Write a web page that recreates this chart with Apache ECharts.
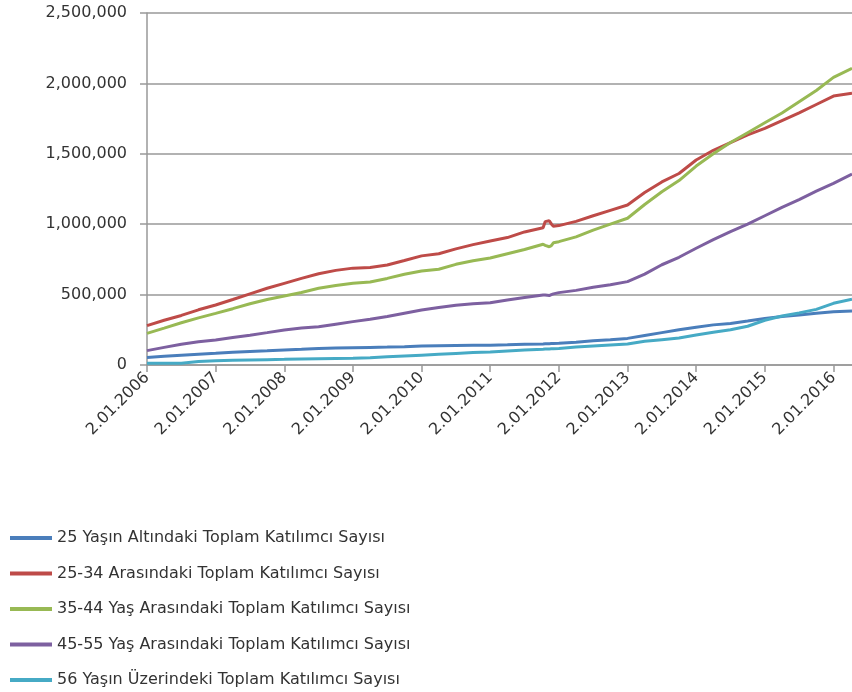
<!DOCTYPE html>
<html>
<head>
<meta charset="utf-8">
<script src="https://cdn.jsdelivr.net/npm/echarts@6/dist/echarts.min.js"></script>
<style>html,body{margin:0;padding:0;background:#fff}#c{width:852px;height:692px}</style>
</head>
<body>
<div id="c"></div>
<script>
// decimal years (2006.0 = 2.01.2006)
const years = [2006.00,2006.25,2006.50,2006.75,2007.00,2007.25,2007.50,2007.75,2008.00,2008.25,2008.50,2008.75,
  2009.00,2009.25,2009.50,2009.75,2010.00,2010.25,2010.50,2010.75,2011.00,2011.25,2011.50,2011.77,2011.80,2011.86,
  2011.89,2011.92,2012.00,2012.25,2012.50,2012.75,2013.00,2013.25,2013.50,2013.75,2014.00,2014.25,2014.50,2014.75,
  2015.00,2015.25,2015.50,2015.75,2016.00,2016.27];
// values in thousands
const under25 = [54,62,70,77,83,90,96,101,107,112,118,121,123,125,127,130,135,137,139,141,140,143,147,150,151,151,
  152,153,154,162,172,180,189,210,230,250,268,285,295,312,330,345,355,367,379,384];
const age25_34 = [280,318,352,392,426,465,505,545,580,615,648,672,688,692,710,742,775,790,825,855,881,905,945,975,1018,1025,
  1002,986,990,1020,1060,1098,1136,1225,1300,1360,1456,1525,1580,1635,1680,1735,1790,1850,1910,1930];
const age35_44 = [225,262,300,335,367,400,435,465,490,515,545,565,580,590,615,645,668,680,715,740,760,790,820,858,850,840,
  848,868,876,910,958,1000,1042,1140,1230,1310,1413,1500,1580,1650,1720,1790,1870,1950,2043,2107];
const age45_55 = [102,125,148,165,178,195,212,230,249,262,272,290,308,325,345,368,390,408,425,435,442,462,480,497,497,493,
  500,505,514,530,552,570,592,645,712,765,829,890,947,1000,1060,1120,1175,1235,1290,1356];
const over56 = [12,12,13,25,30,33,36,38,40,43,45,47,48,52,58,64,70,76,82,88,92,100,107,112,113,114,
  115,116,118,127,135,142,149,168,180,192,213,232,250,275,318,348,370,395,438,467];
const seriesNames = ['25 Yaşın Altındaki Toplam Katılımcı Sayısı','25-34 Arasındaki Toplam Katılımcı Sayısı',
  '35-44 Yaş Arasındaki Toplam Katılımcı Sayısı','45-55 Yaş Arasındaki Toplam Katılımcı Sayısı',
  '56 Yaşın Üzerindeki Toplam Katılımcı Sayısı'];
const seriesData = [under25, age25_34, age35_44, age45_55, over56];
const colors = ['#4A7EBB','#BE4B48','#98B954','#7D60A0','#46AAC5'];

const font = 'DejaVu Sans';
const chart = echarts.init(document.getElementById('c'), null, {renderer:'canvas'});
chart.setOption({
  animation:false,
  grid:{left:147, top:13, right:0, bottom:327},
  xAxis:{type:'value', min:2006, max:2016.27, interval:1,
    axisLine:{lineStyle:{color:'#999', width:1.5}},
    axisTick:{length:7, lineStyle:{color:'#999', width:1.5}},
    splitLine:{show:false},
    axisLabel:{rotate:45, margin:10, color:'#333', fontFamily:font, fontSize:16,
      formatter:v=> Math.abs(v-Math.round(v))<1e-6 ? '2.01.'+Math.round(v) : '',
      showMaxLabel:false}
  },
  yAxis:{type:'value', min:0, max:2500000, interval:500000,
    axisLine:{show:true, lineStyle:{color:'#999', width:1.5}},
    axisTick:{show:true, length:7, lineStyle:{color:'#999', width:1.5}},
    splitLine:{lineStyle:{color:'#999', width:1.5}},
    axisLabel:{margin:20, color:'#333', fontFamily:font, fontSize:16,
      formatter:v=>v.toLocaleString('en-US')}
  },
  legend:{orient:'vertical', left:10, top:529, height:163, padding:0, itemWidth:42, itemHeight:4, icon:'rect', itemGap:17.5,
    textStyle:{fontFamily:font, fontSize:16, color:'#333', lineHeight:18}},
  series: seriesData.map((d,i)=>({
    name:seriesNames[i], type:'line', showSymbol:false, symbol:'none',
    data: years.map((y,j)=>[y, d[j]*1000]),
    lineStyle:{color:colors[i], width:3}, itemStyle:{color:colors[i]}
  }))
});
</script>
</body>
</html>
